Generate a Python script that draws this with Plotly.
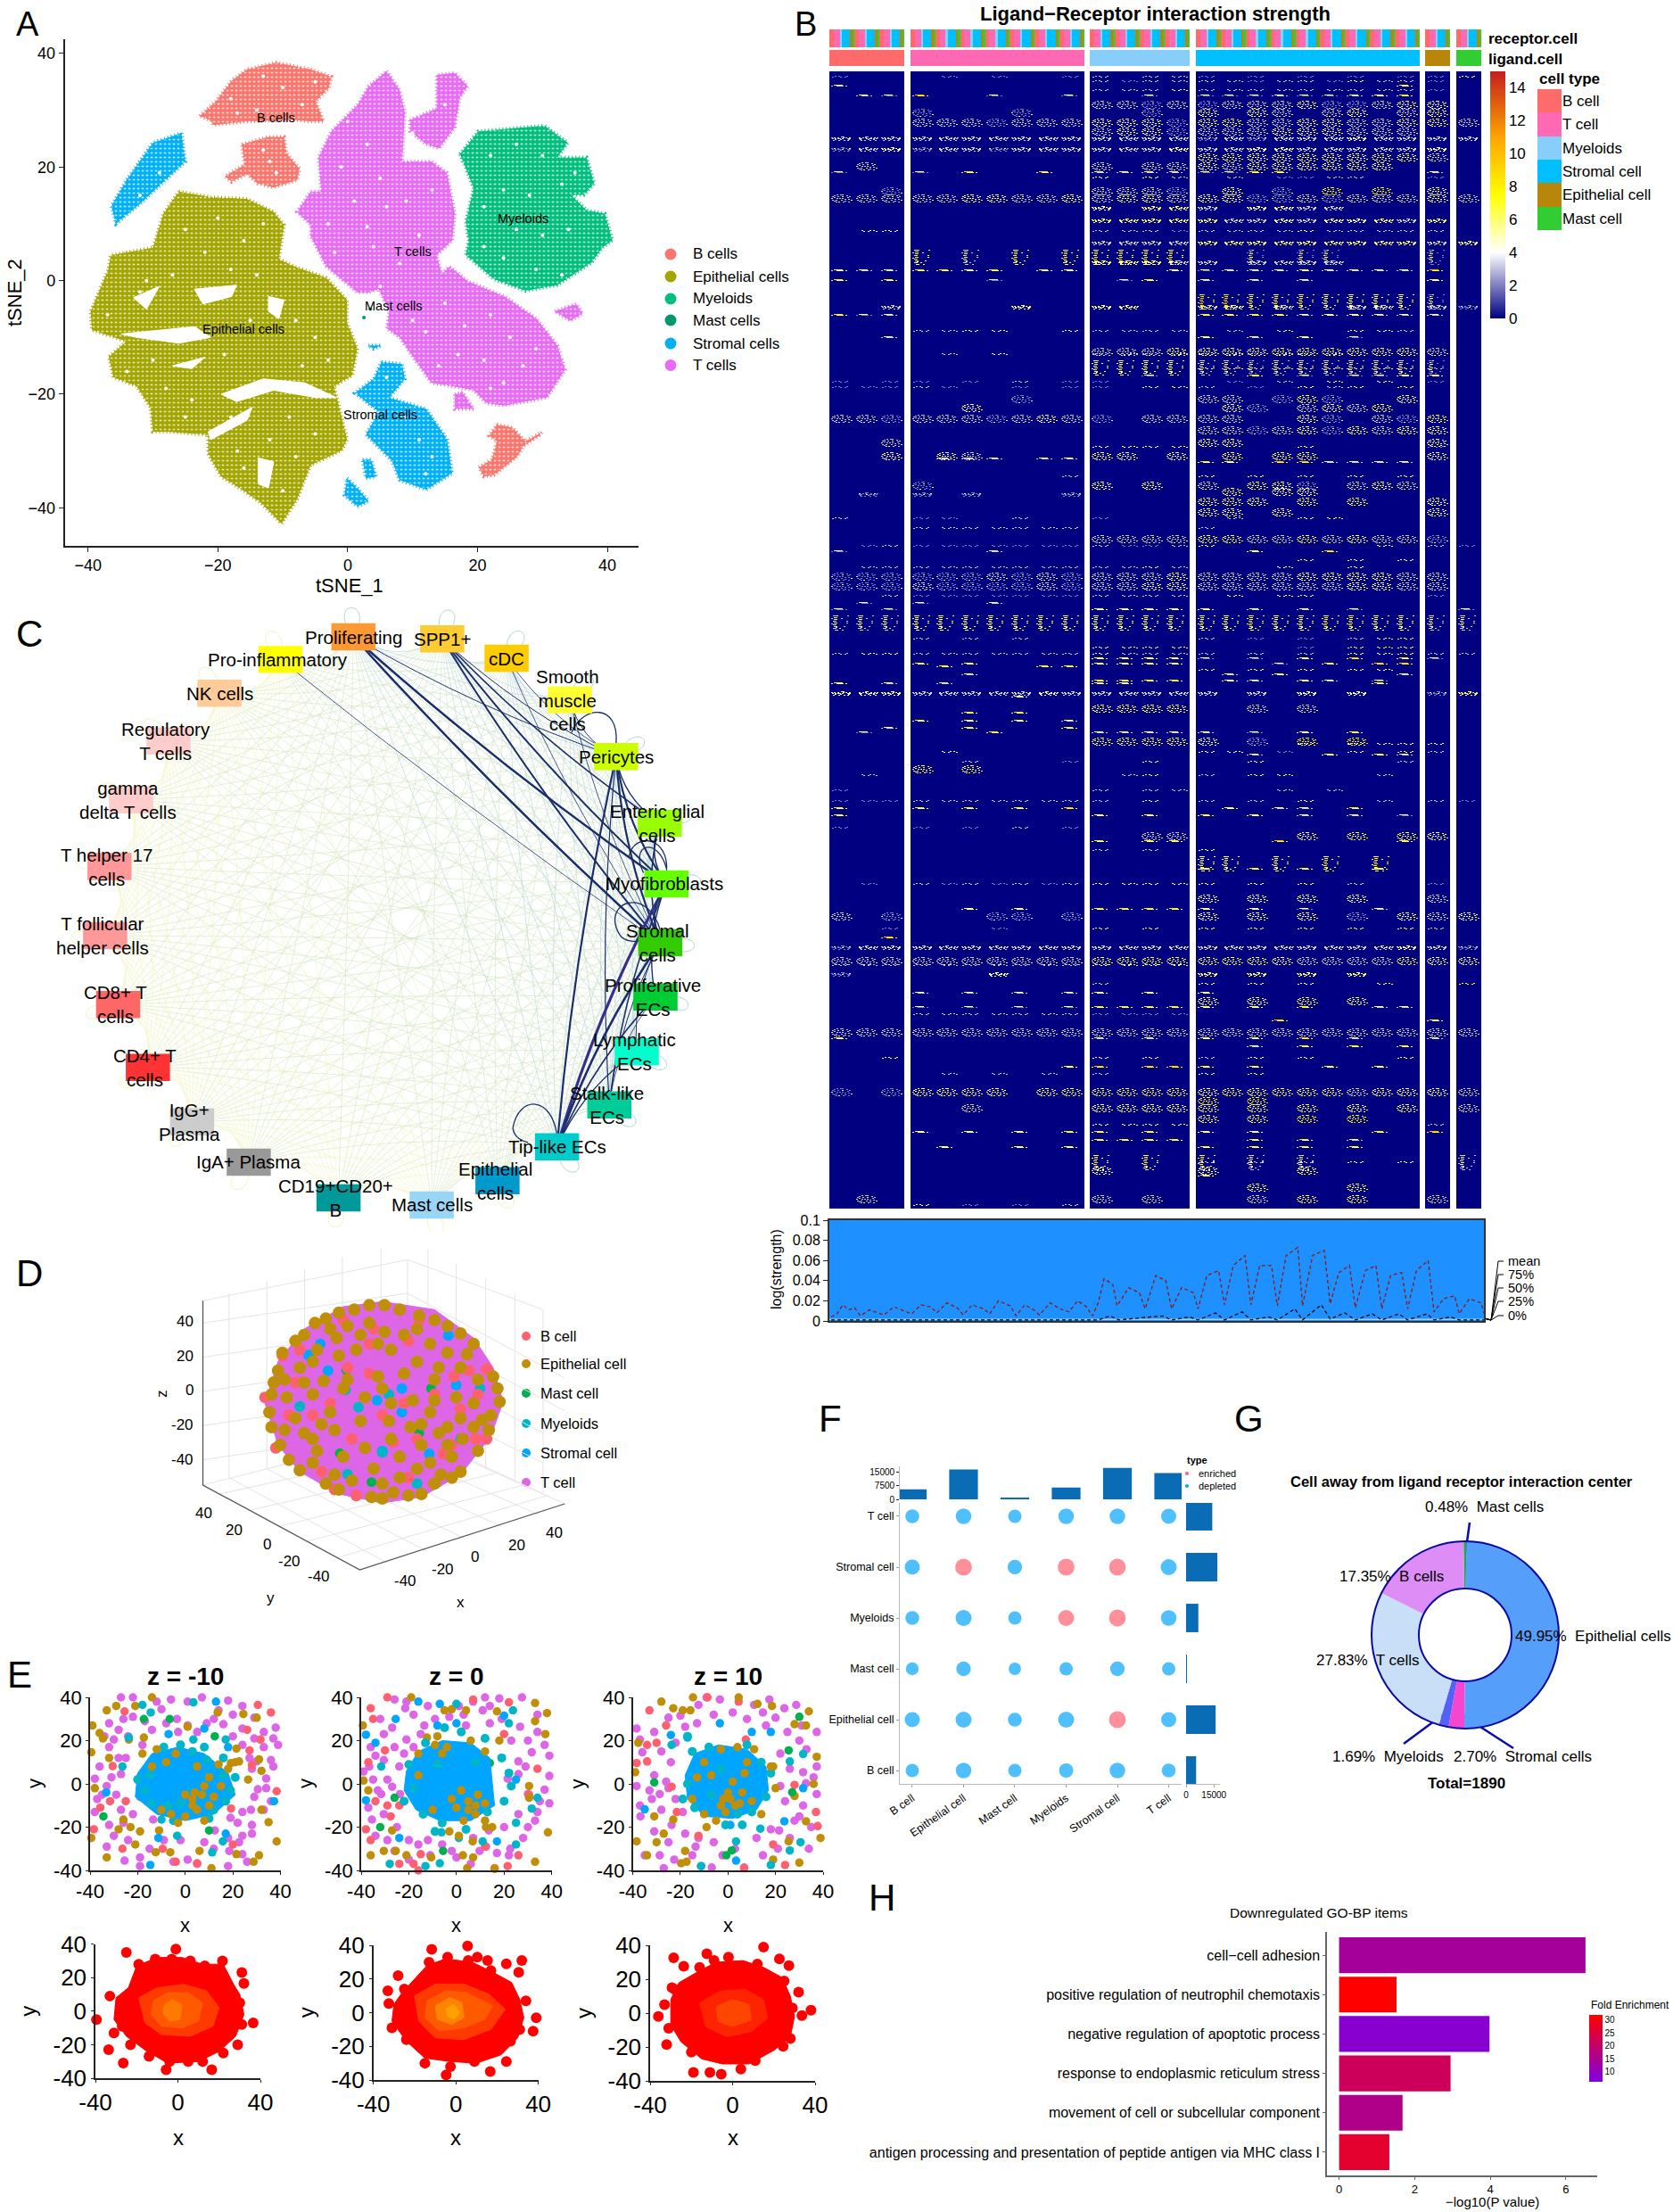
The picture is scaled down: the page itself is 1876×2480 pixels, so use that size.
import numpy as np
import plotly.graph_objects as go

# NOTE: dense clouds (A, D, E lower row) and the heatmap cannot be read point by point.
# They are approximated by hand-read outlines, hand-placed dots and hand-read band intensities.
W, H = 1876, 2480
FONT = "Liberation Sans"

# ---------- Panel A ----------
tsne_colors = dict(B="#F8766D", E="#A3A500", M="#00BF7D", Ma="#00966B", S="#00B0F6", T="#E76BF3")
b_top = [(-22.8,29),(-20.3,31.6),(-17.9,35.2),(-15.5,37.2),(-11,38.4),(-5.7,37.2),(-2.5,35.9),(-2.9,33.9),(-4.9,31.6),(-3.7,28),(-5.7,28),(-8.2,28.3),(-15.5,28),(-20.7,27.4),(-21.1,28.2)]
b_mid = [(-16.3,24),(-12.2,25.3),(-9.8,25.3),(-9.4,22.4),(-7.4,19.7),(-7.8,17.7),(-11.4,16.4),(-13.9,17.1),(-15.5,18.8),(-17.9,17.4),(-18.9,18.4),(-15.9,20.4)]
b_low = [(23,-25.3),(25.4,-25.9),(27.4,-28.3),(29.9,-26.7),(29.5,-27.3),(27,-29.2),(26.2,-30.9),(22.6,-34.2),(21,-34.5),(20.2,-32.9),(22.2,-31.5),(23,-28.3),(21.8,-27.3)]
myeloid_poly = [(17.3,22.3),(20.1,26.3),(30.3,27.3),(33.9,24.3),(32.3,21.7),(36.8,21.7),(38,17.1),(36.4,15.1),(34.4,15.1),(36.8,12.4),(39.6,11.8),(40.8,7.1),(39.2,5.8),(37.6,3.2),(32.3,-.8),(27.4,-1.8),(22.6,.2),(18.2,4.5),(18.6,7.1),(18.2,10.4),(19.4,16.3)]
t_main = [(6,36.9),(8,33.6),(8.8,29.6),(8.4,21),(12.9,21),(15.3,19),(16.5,11.8),(16.1,7.1),(13.7,4.5),(14.5,1.2),(15.7,2.5),(18.5,-.1),(24.2,-2.8),(29.1,-6.7),(32.3,-11.4),(33.5,-15.7),(30.7,-20.6),(24.2,-22),(21.4,-21.6),(19.4,-19.3),(16.1,-18.6),(12.9,-18),(10.4,-14),(8,-10),(6,-8.4),(6.4,-5.4),(4.8,-1.5),(3.2,-2.1),(1.5,-2.1),(-3.3,2.5),(-5.7,7.8),(-5.7,9.8),(-7.8,12.1),(-5.7,15.7),(-4.1,15.7),(-4.5,21.7),(-2.5,26.3),(1.5,30.9),(3.2,34.2)]
t_up = [(9.6,28.3),(13.7,30.3),(13.7,36.2),(16.5,36.6),(18.5,34.2),(17.3,32.3),(16.5,27),(14.1,23.3),(12.1,24),(9.6,26.3)]
t_s1 = [(16.5,-20),(17.7,-19.6),(19.4,-22.6),(16.5,-22.6)]
t_s2 = [(31.9,-5.4),(35.2,-4.1),(36.2,-5.8),(34.3,-7.1)]
s_left = [(-25.6,26),(-25,21),(-31.7,13.8),(-35.7,10),(-36.4,13.1),(-34.1,17.7),(-30,24.3)]
s_main = [(5.2,-14.3),(8.4,-14.7),(8.8,-17.3),(6.4,-20.6),(12.1,-22.6),(15.3,-27.9),(16.1,-33.9),(12.1,-36.8),(8,-35.1),(6.8,-31.7),(2.8,-27.1),(4.8,-23.1),(1.1,-19.8),(4,-17.3)]
s_s1 = [(2.3,-31.5),(3.6,-31.5),(4.4,-34.5),(2.8,-34.8)]
s_s2 = [(-.1,-34.8),(1.5,-36.5),(3.2,-38.8),(1.5,-39.8),(-.5,-37.8)]
s_s3 = [(3.2,-11.4),(5.2,-11.4),(4,-12)]
epi_poly = [(-26,15.7),(-21.1,14.7),(-15.5,14.4),(-11.4,12.1),(-9.8,9.8),(-10.6,3.8),(-8.2,2.5),(-3.3,.5),(-.1,-3.4),(-.1,-7.4),(1.5,-12),(.7,-16.7),(-2.1,-18.6),(-.9,-23.9),(-.1,-27.9),(-.9,-29.9),(-5.7,-32.5),(-7.8,-38.5),(-10.2,-42.8),(-13.4,-39.1),(-16.7,-36.5),(-19.5,-34.5),(-21.5,-30.5),(-21.5,-27.2),(-27.6,-26.6),(-30,-26.6),(-30.4,-22.3),(-32.5,-18.6),(-36.1,-17),(-36.8,-13.4),(-34.1,-10.7),(-39.4,-8.7),(-39.6,-5.4),(-36.9,1.9),(-36.5,4.5),(-30,5.8),(-28.4,11.8)]
epi_gaps = [[(-34.9,-9.4),(-23.6,-8.1),(-21.1,-10),(-26,-11),(-32.5,-10)],
            [(-23.6,-1.5),(-17.1,-.8),(-17.9,-2.8),(-22.3,-4.1)],
            [(-12.2,-2.8),(-9.8,-3.4),(-10.6,-6.7),(-12.2,-5.4)],
            [(-19.5,-20),(-13,-17.3),(-6.6,-18),(-1.7,-20.6),(-4.9,-20.6),(-11.4,-19.3),(-17.1,-21.3)],
            [(-21.5,-26.6),(-14.7,-22.3),(-15.5,-24.6),(-21.1,-28)],
            [(-13.8,-31.2),(-11.4,-31.9),(-12.2,-36.5),(-13.8,-35.8)],
            [(-27,-15),(-22,-13.5),(-24,-15.5)],[(-33,-3),(-29,-1),(-31,-5)]]
tsne_polys = [("B",b_top),("B",b_mid),("B",b_low),("M",myeloid_poly),("T",t_main),("T",t_up),("T",t_s1),("T",t_s2),("S",s_left),("S",s_main),("S",s_s1),("S",s_s2),("S",s_s3),("E",epi_poly)]
white_specks = [(-18,32),(-14,30),(-10,34),(-7,31),(-13,36),(-17,29.5),(-5,35),(-12,21),(-11,19),(-13,23),
 (0,28),(3,24),(-1,20),(5,18),(1,14),(-3,10),(3,9.5),(4,6),(-2,5),(6,13),(9,14),(11,8),(13,16),(8,3),(5,-1),
 (15,-4),(18,-8),(22,-6),(25,-10),(21,-14),(27,-15),(24,-18),(17,-13),(12,-9),(29,-12),(22,-19),(14,-15),(10,-7),
 (22,22),(26,24),(30,22),(24,16),(28,15),(33,17),(21,13),(26,9),(30,8),(24,4),(29,2),(33,1),(34,9),(21,6),(35,19),
 (-25,9),(-20,11),(-16,7),(-13,10),(-22,5),(-18,2),(-14,1),(-27,1),(-32,-2),(-8,-7),(-5,-10),(-3,-14),(-7,-15),
 (-15,-7),(-19,-13),(-28,-19),(-24,-21),(-18,-24),(-9,-24),(-5,-27),(-12,-28),(-17,-30),(-8,-31),(-16,-33),(-10,-37),
 (-34,-16),(-30,-14),(-25,-24),(-31,0),(-37,-6),(11,-28),(13,-31),(9,-24),(6,-17),(12,-34),(-29,19),(-32,15),(10,26),(15,31)]
a_labels = [(-11,28.7,"B cells"),(10,5.2,"T cells"),(27,11,"Myeloids"),(7,-4.4,"Mast cells"),(-16,-8.6,"Epithelial cells"),(5,-23.6,"Stromal cells")]
a_legend = ["B cells","Epithelial cells","Myeloids","Mast cells","Stromal cells","T cells"]
a_legend_y = [285,310,335,359,385,409.5]
a_legend_c = ["#F8766D","#A3A500","#00BF7D","#00966B","#00B0F6","#E76BF3"]

# ---------- Panel B ----------
SEG = [(930,84,3),(1021,195,7),(1222,112,4),(1341,251,9),(1598,28,1),(1633,28,1)]
cell_colors = ["#FF6A6A","#FF69B4","#87CEFA","#00BFFF","#B8860B","#32CD32"]
cell_types = ["B cell","T cell","Myeloids","Stromal cell","Epithelial cell","Mast cell"]
receptor_pattern = [0,0,1,1,1,2,3,3,3,3,4,5]
MOTIF = {
 "r": ["......o...o.o...........","...o.............o......",".o.....o....O.......o...","...o..............o.....","O.....o..o..o...........","...............o...o....",".o...o.....o..........O.","...o...........o........",".....o..O....o.....o...."],
 "c": ["..o.o.O...........o.....","........................","...O.o..................","o..........o............","...O.O..................","........................","..O.o............o......","........................","...O.O...........o......","o.......................","..O.O...................","........................","...o.O........o.........",".....o..................","..o.o....o..............","........................","....o.o.....o..........."],
 "d": ["...OO.OOoO.O.......","o.....o.o.o.o...o.."],
 "s": ["....o...o........o......",".o........o....o........"],
 "w": ["...........o.o..........","o..O...o.....o..o...O...",".o..o..o.o..O.....o.o...","....o.....o........o....","..o.....o.....o...o....."],
}
LEVEL = {1:2.0,2:3.2,3:4.2,4:5.6,5:7.5}
bands = [
(85,"s","1...1.1..12.221.1.1.1.113"),(90,"s","..........212222122132 21."),(95,"d","2.....................4.."),(100,"s","..........222322222222 21."),
(106,"d",".215..1..1..1.1112 1123 4."),(113,"r","..........221212223112 33."),(122,"r","...1...1....1.3.32.23.24."),(133,"r","...222122233314422332234 2"),
(143,"r","..........2331222333222.."),(153,"w","2222222222222212122232222."),(165,"w","1231221222222322332222 23."),(172,"r","..............44334334 32."),
(182,"r",".2........2.22323333 33."),(192,"d","1..1.4..4.22221144.....2."),(198,"s","..........3.32.2.1122..1."),(210,"r","..1.......2221.3.1.5.5.3."),
(218,"r","2222233223233233112 12223 2"),(231,"w","..........3.442.3322....."),(245,"w","..........44444223233424.."),(258,"s",".33.......22212222322222."),
(270,"w","..........2222444444444 23"),(280,"c","...4.2.4.44444..1.11...1."),(292,"w","..........44422.2222....."),(302,"d","3224434.33...3122232222 5."),
(313,"d","4.4...1....14.2.2.2....3."),(330,"c","..............554443333 1."),(342,"w","..2....3..33..23.2..22.21"),(352,"d","412...........444423322 2."),
(370,"s","...2233..32222.2.3..332.."),(377,"d","..2...........3.2.3.1..."),(390,"r","..........2224333444333 2."),(396,"s","....2.3...2222221222....."),
(404,"c","..........3333221222222 1."),(412,"s","..............333333333 2."),(420,"d","............1...4.1.113 3."),(427,"s","1.11.1.2.11....1.2.4.3.1."),
(433,"s","11121..1.11.332.1.323.4.."),(443,"r",".......1......22.14 1..3."),(453,"r",".....3.........31.232 4."),(465,"r","22122212321.2222..31.21 4."),
(478,"r","..............221231323 3."),(492,"r","..2...........33.......3."),(500,"s","..........3333....3....1."),(507,"r","..3.32....43.3.4.44....3."),
(513,"d","....222.22..............."),(517,"d","..............43.55222 2.."),(533,"s",".........2....3.3.3.3.3.."),(540,"r","...1......3.3.2.431.23 2."),
(547,"r","...............4.33......"),(552,"w",".1.1.1...1..............."),(558,"r","..............443.4.4..3."),(570,"r","..............33.3.....3."),
(580,"s","2..11..2..1....2..34....."),(591,"s","...2222222....2..........."),(600,"r","..........2222442242322 1."),(611,"s",".1211111112112 3......3.21"),
(617,"d","1.....2.........3..5....."),(627,"s","..................4.3.3.."),(635,"s",".2222222222232...3..3...."),(642,"r","111111212122232222 3333 22"),
(653,"r","111211112122332222 2233 22"),(667,"s","..21111111222 2.3.33....1."),(675,"d",".1.1..2.................."),(682,"d","1.1.......33333.2.2.1...1."),
(690,"c","222333333333333343 34433 22"),(715,"s","...2.2.2......2.1.1.234.."),(725,"s","..........3333....1.453.."),(732,"s","233222222232222.2.2.334 22"),
(737,"d","..........33331.1.3.5.4 1."),(743,"d","...4.3....3333...1.4.55.."),(746,"d","....4...44..............."),(750,"s","..............3.3.3.4 3.."),
(755,"d",".....2.........2.3....2.."),(762,"d","..........4444.32.32.1..."),(765,"d","3.2.2.....43.........4.."),(775,"w","3332222232222 22.2.3.3..14"),
(780,"d",".......3................."),(790,"r","..........4444..2.2......"),(798,"d",".....4.4................."),(807,"d","...4.3.3.2..............."),
(815,"d","..2..4...4..............."),(820,"d",".1....4...22222.1.3.4...."),(827,"r","..........44443.1.5.5...."),(833,"s","..................3.3333.."),
(842,"s","....3.........33.1..3.4 2."),(845,"d","................2..3.4 2.."),(853,"s",".....2...1..3...3.....2.."),(858,"r","...4.4..................."),
(868,"s",".2.........24.2.44...2."),(885,"s","1.........2.22...2.2....."),(897,"s","1112222222 2.3.2.2.3..2.21"),(905,"d","4..4.4.4.5.....3.22.4....."),
(913,"d","4.........3.3.4.3.2.2.1."),(927,"s","1..1.1.2.1..............."),(933,"r","............22....3.4.4 3."),(942,"d","..........4.44...5....4.."),
(952,"s","..........2.2.3.........."),(960,"c","..............33.3.4.4..."),(973,"d","..............4.4.4..4.."),(990,"s",".1.21212123333 3.3.4.2..1."),
(1003,"r","..............3.3.3.3..2."),(1018,"d",".....3.3..4444 3.3.1..2..."),(1023,"r","2.1...11.1....3.3.3.1.3 23"),(1040,"s","..1...1...3.3.3.3.3.3.3 2."),
(1050,"d","..5......................"),(1060,"w","12222222222 2222222222 23 21"),(1073,"r","22222222224444444322224 33"),(1081,"s","22222222223333..........."),
(1090,"w","1.....3.......4.4.4.4...."),(1102,"s","..........2...3.3.3..4..5."),(1112,"d","...2.2.2.23.3.3..........."),(1118,"r","..............3.3.4.3...."),
(1128,"d","...1.1.1.144443.3.4..22"),(1136,"s","...2222222 1111..........."),(1143,"d",".................5.....4.."),(1153,"r","22222222222222 2222222222 23"),
(1163,"d","4.........2.2.3.3.5.2..2."),(1172,"d","................2.4.4.4..."),(1185,"s","..4.......3.3.2.3.3...4."),(1195,"d",".........35.554.4..3.3..."),
(1203,"s","....2.2.2.2...3.4........"),(1220,"r","1.13333.3444443 444432333 2."),(1230,"r","..............5.5........"),(1238,"r",".....2....3333 4.4.4.3.3.2"),
(1250,"r","..............4.4.5.5...."),(1260,"s","..........3333.........2."),(1268,"d","...3.3.3.44.4.3.3....4.5"),(1277,"d","..........4444..4.4.2...."),
(1285,"d","....3..3.3....4.4.4.4...."),(1295,"c","..........4.4.4.2.2.....2"),(1302,"s","..............2.2.2.3.3.."),(1308,"r","..........3...3...4......"),
(1317,"d","..............4..........."),(1327,"r","................4...4...."),(1340,"r",".2........2.2...2.4.4..2."),(1350,"s","...3.1.1.2..............."),
]
heat_colorscale = [[0,"#000080"],[0.267,"#FFFFFF"],[0.5,"#FFFF00"],[0.73,"#FFA500"],[1,"#C41E1E"]]
mean_x = [125,135,145,155,165,175,190,200,215,232,245,262,278,295,305,322,340,350,365,385,395,410,430,440,455,470,480,498,515,530,545,560,570,580,590,605,612,632,650,660,678,695,705,722,742,750,765,785,795,810,830,840,855,875,885,900,920,928,945,965,975,990,1008,1018,1035,1053,1063,1078,1097,1107,1122,1142,1152,1168,1187,1195,1212,1232,1237]
mean_y = [.004,.007,.016,.011,.013,.005,.011,.009,.006,.014,.011,.007,.016,.014,.008,.018,.013,.006,.016,.012,.007,.02,.015,.005,.016,.011,.006,.018,.012,.009,.02,.014,.005,.018,.042,.036,.015,.033,.028,.012,.045,.04,.012,.033,.028,.012,.045,.05,.016,.055,.065,.016,.055,.055,.015,.065,.073,.015,.065,.07,.017,.048,.055,.013,.05,.055,.012,.045,.048,.012,.05,.06,.009,.022,.025,.007,.022,.018,.008]
q75_x = [125,580,600,615,650,690,705,735,750,780,795,825,840,870,885,915,928,960,975,1000,1018,1047,1063,1092,1107,1140,1152,1180,1195,1237]
q75_y = [.001,.001,.005,.001,.003,.005,.001,.004,.001,.008,.001,.009,.001,.004,.001,.012,.001,.016,.002,.008,.001,.007,.001,.007,.001,.007,.001,.004,.001,.001]
side_labels = [("mean",1414),("75%",1429),("50%",1444),("25%",1459),("0%",1475)]

# ---------- Panel C ----------
node_names = ["Proliferating","SPP1+","cDC","Smooth<br>muscle<br>cells","Pericytes","Enteric glial<br>cells","Myofibroblasts","Stromal<br>cells","Proliferative<br>ECs","Lymphatic<br>ECs","Stalk-like<br>ECs","Tip-like ECs","Epithelial<br>cells","Mast cells","CD19+CD20+<br>B","IgA+ Plasma","IgG+<br>Plasma","CD4+ T<br>cells","CD8+ T<br>cells","T follicular<br>helper cells","T helper 17<br>cells","gamma<br>delta T cells","Regulatory<br>T cells","NK cells","Pro-inflammatory"]
node_x = [736,921,1055,1187,1283,1374,1388,1375,1365,1326,1269,1160,1036,899,705,518,400,308,246,219,228,273,351,457,584]
node_y = [117,122,169,270,408,570,717,860,992,1125,1254,1356,1438,1497,1480,1393,1295,1163,1010,843,675,513,370,254,172]
label_x = [736,921,1055,1182,1284,1368,1383,1370,1359,1321,1264,1160,1031,899,700,518,395,302,240,213,222,267,345,457,578]
node_col = ["#FF9933","#FFCC33","#FFCC00","#FFFF33","#CCFF00","#99FF00","#66FF00","#33CC00","#00CC33","#00FFCC","#00CC99","#00CCCC","#0099CC","#99D5F5","#009999","#999999","#CCCCCC","#FF3333","#FF6666","#FF9999","#FF9999","#FFCCCC","#FFCCCC","#FFCC99","#FFFF00"]
strong_edges = [(0,6,2.4),(0,6,1.6),(0,7,2.4),(0,7,1.6),(0,4,1),(1,6,2),(1,7,2),(1,5,1.6),(1,4,1),(2,4,.8),(2,7,.8),(24,7,.8),(3,7,.8),(3,4,1),(4,11,2.2),(4,10,1.2),(4,6,2.2),(4,7,2.2),(4,5,1.4),(5,6,1.6),(5,7,1.6),(6,11,3.2),(7,11,2.6),(6,10,1.6),(8,11,1.6),(9,11,1.4),(7,9,1),(6,8,1.4),(6,7,1.6),(7,10,1),(8,10,.8)]
strong_loops = ["M1283,375 C1290,280 1215,280 1190,350","M1388,690 C1395,600 1320,590 1310,650","M1340,690 C1310,620 1370,600 1388,680","M1375,830 C1350,720 1250,760 1290,840 C1300,860 1330,860 1340,850","M1160,1330 C1150,1230 1080,1230 1068,1310 C1070,1330 1080,1340 1100,1345"]

# ---------- Panel D ----------
d_outline = [(880,178),(1000,205),(1090,300),(1135,400),(1158,515),(1130,630),(1060,760),(970,835),(880,855),(780,825),(690,750),(640,660),(610,520),(640,380),(700,270),(790,195)]
d_gold = [(850,190),(885,190),(815,205),(780,215),(920,205),(750,235),(965,225),(725,250),(1000,240),(1030,260),(700,290),(1060,285),(680,310),(1090,320),(650,350),(640,410),(630,450),(1135,430),(1145,470),(1150,515),(625,490),(620,550),(625,600),(1130,560),(1125,610),(645,660),(665,710),(690,745),(1100,680),(1060,750),(720,720),(750,790),(780,810),(855,835),(880,840),(905,820),(940,830),(970,825),(1000,790),(1040,770),
 (760,270),(800,260),(850,250),(885,280),(930,290),(990,320),(1030,350),(1060,400),(1010,400),(960,380),(900,340),(870,320),(820,340),(780,360),(720,380),(690,400),(745,445),(800,440),(870,430),(930,420),(1000,440),(1050,500),(1100,440),(1090,520),(1060,570),(990,550),(950,510),(900,520),(840,500),(790,470),(720,490),(660,500),(680,570),(740,590),(700,620),(770,610),(830,580),(895,580),(970,590),(1030,600),(1090,600),(1030,660),(970,660),(900,640),(840,670),(790,700),(730,680),(860,740),(920,770),(990,720),(1040,700),(810,780),(880,790),
 (775,300),(830,290),(960,270),(1075,355),(730,340),(655,440),(700,450),(760,550),(655,610),(720,640),(1010,620),(1065,640),(1110,575),(945,600),(1000,510),(880,470),(920,700),(770,760),(960,740),(1015,760)]
d_red = [(790,240),(860,270),(965,240),(940,310),(1120,405),(850,420),(760,520),(680,450),(610,500),(665,560),(810,640),(960,640),(905,650),(1020,690),(1040,660),(1095,640),(740,750),(770,810),(820,830),(940,770),(1000,490),(1100,490),(1045,430),(635,670),(1120,640),(650,360),(690,340),(930,520),(850,320),(1080,410),(880,560),(720,560),(1060,540),(800,400)]
d_blue = [(737,320),(710,358),(1032,292),(1050,458),(868,510),(925,550),(988,690),(880,680),(925,470),(755,410)]
d_teal = [(795,475),(825,533),(880,685),(800,758),(895,490),(1060,640),(960,790),(1105,470),(690,530)]
d_green = [(797,408),(992,470),(782,688),(855,785),(965,620)]
d_grid = [[(467,175),(938,37),(1250,205)],[(467,250),(938,150),(1300,435)],[(467,365),(938,265),(1300,545)],[(467,480),(938,380),(1250,620)],[(467,595),(938,495),(1250,720)],[(467,710),(938,610),(1250,825)],
 [(527,150),(527,770)],[(614,108),(614,740)],[(701,68),(701,715)],[(788,28),(788,690)],[(877,0),(877,660)],[(985,0),(985,660)],[(938,37),(938,620)],[(1050,50),(1050,700)],[(1118,100),(1118,740)],[(1185,155),(1185,780)],[(1250,205),(1250,825)],
 [(890,1055),(527,770)],[(980,1015),(614,740)],[(1070,975),(701,715)],[(1155,935),(788,690)],[(1240,895),(877,660)],
 [(505,825),(1005,665)],[(575,880),(1075,710)],[(640,935),(1140,755)],[(705,985),(1205,795)],[(775,1040),(1260,830)],[(467,795),(938,620),(1300,858)]]
d_axes = [[(467,175),(467,795),(828,1080),(1300,858)]]
d_text = [(425,245,"40"),(425,360,"20"),(437,475,"0"),(420,592,"-20"),(420,708,"-40"),(470,890,"40"),(538,945,"20"),(615,995,"0"),(667,1050,"-20"),(733,1103,"-40"),(933,1118,"-40"),(1020,1078,"-20"),(1093,1035,"0"),(1190,997,"20"),(1276,955,"40"),(623,1175,"y"),(1060,1190,"x")]
d_legend = ["B cell","Epithelial cell","Mast cell","Myeloids","Stromal cell","T cell"]
d_legend_y = [1498,1529,1562,1596,1629,1662]
d_legend_c = ["#FF6070","#C08F0A","#00B050","#00B5C8","#00A5FF","#DD66E6"]

# ---------- Panel E top row ----------
e1 = dict(
 T=[(-27,40),(-22,40),(-6,39),(1,38),(7,40),(18,38.5),(38,26),(37,21),(39,18),(36,11),(37,8),(34,2.5),(34,-2),(30.5,-2.5),(29,-6),(27.6,-12),(24,-13),(28,-19),(28,-23),(24,-24),(22.6,-27),(18,-38),(26,-36),(24,-32.5),(18.5,-31),(5,-37),(1,-35),(-5,-36),(-19,-38),(-25.5,-35.5),(-33,-29),(-19,-34),(-32,-19),(-38,-13),(-37,-7),(-38,2.4),(-36,8),(-32,17),(-32,28),(-30,20.5),(-26,30),(-22,31),(-17,29),(-10,34.5),(-3.5,30),(1,27),(9,28),(16,27.6),(20,32),(24,25.6),(29,30.6),(29,21),(33,17),(30,10.4),(28,7),(-33,-1),(-27,4.5),(-28,12),(-25,12),(-29,-5),(-19,-6),(-26,-18),(-13.5,-16.5),(-5.6,-13),(12.4,-21.5),(19,-15.7),
    (-14,25),(-8,28),(-3,24),(5,24),(12,30),(20,22),(24,18),(27,12),(33,24),(36,-8),(33,-12),(22,-18),(18,-25),(12,-30),(8,-27),(-2,-26),(-9,-26),(-15,-30),(-24,-26),(-30,-24),(-35,-5),(-31,3),(-27,-12),(-22,-14),(-24,22),(-28,25),(-34,22),(-18,18),(-12,38),(14,34),(24,36)],
 B=[(-25.5,33.5),(30.5,36.5),(36,33),(26,25),(31.6,20.5),(27,15.5),(28,8.7),(38.4,-3.4),(-38.4,-21),(-35.7,-11),(-30.5,8.2),(-26.4,-30),(-9.5,-30),(-4,-36),(5,-36.7),(20,-28),(19.2,-11.4),(-25,-8),(-19,3),(-31.6,-8)],
 E=[(-14,40),(-33,34),(-29,36),(-21,36),(-39,27),(-39.5,14.6),(-36,23.5),(-34.6,21),(-32,12),(-38,-2),(-39.5,-25),(-33,-34),(-21,-28),(-26,-16.5),(-28,-21),(-23,-20),(-19,-22),(-11,-21.5),(-12.4,-31.6),(-6.3,-31.6),(6,-31),(11,-39),(21.5,-32.5),(31,-33),(28.7,-36),(38.4,-26.6),(35,-17.7),(32,-12),(26.4,2),(32,6),(31,11.3),(24.4,32.3),(30,30.6),(13.6,33),(1,26.4),(-23.7,20.5),(-17.4,21.4),(21.5,16.3),(22.6,10.4),(19.2,9.6)],
 M=[(-18,36.5),(-14.5,33),(3.4,37.7),(17,20.5),(3.4,20.5),(11.3,-31.7),(15.8,-26.6),(-3.4,-24),(-10,-16.5),(-26.4,8),(-23.7,21.4)],
 S=[(12.9,38),(-14.7,-37.5),(37.3,-8),(17,-23),(-11.3,-25),(-33.2,-4),(8,25.6),(18,17),(-7,23)],
 C=[(-17.4,30),(-6.5,30),(-34.4,-15),(10,-21.5),(12.4,22)],
 core=[(-20,5),(-14,14),(-3,17),(8,14),(18,5),(21,-5),(12,-14),(0,-17),(-12,-14),(-21,-6)],
 core_E=[(-8,10),(-4,14),(5,8),(8,-1),(4,-4),(3,-7),(7,-5),(10,3),(12,-6),(15,-1),(-10,-12),(-6,-14),(0,-15),(5,-12),(-14,8),(-18,14),(14,9),(18,7),(21,10),(-3,-18),(8,-17),(10,-10),(3,-10),(0,-5),(-12,16)],
 core_M=[(-17,-3),(-20,2),(-14,-9),(-7,-10),(-2,-9),(4,-11),(12,-12),(17,-8),(19,-3),(21,3),(16,12),(8,17),(-2,18),(-9,17),(3,15),(9,11),(-15,4),(16,4),(-5,-17),(10,-16)])
e2 = dict(
 T=[(-26,39),(-21,38),(-12,36),(12,40),(18,39.5),(27.5,40),(7,38),(1,36),(37,18),(39,13),(39,3.7),(37,-2.7),(39,-9),(35,-8),(34,-13),(30,-4.7),(30,-20),(28,-25),(22.6,-30),(17,-32),(12.4,-29),(9.7,-31),(-2,-31),(-11,-33),(0,-34),(-20,-35),(-26,-31),(-34,-24),(-35.5,-16.5),(-37,-11),(-39,5.7),(-36.6,8),(-34,13),(-36,17),(-30.5,23),(-26,17),(-30.5,11),(-21,20.5),(-18,17),(-13.5,27),(-18,32),(-21.5,35),(11,34),(19,30),(26.7,26.4),(31.6,14.6),(26,10.4),(29,8),(21.5,2.4),(26,4.5),(-29,2),(-31.6,-4.7),(-27,-1.3),(-23.7,-4.7),(-30.5,-14),(-25,-20),(-16,-28),(7,-25),(13.6,-21.5),
    (-9,30),(-3,31),(4,27),(14,28),(23,20),(30,20),(34,24),(33,-17),(26,-14),(20,-20),(22,-33),(6,-37),(-6,-28),(-12,-26),(-20,-26),(-29,-26),(-33,-3),(-35,2),(-24,8),(-22,14),(-27,26),(-32,30),(-15,23),(3,32),(14,36),(34,32)],
 B=[(-29,40),(-36,35),(-35,30),(7,39),(22,37.7),(-37,10),(-30,15.5),(34,7),(-34,-8),(-29,-10),(-24,-10),(-27.6,-15),(-38,-21),(-36,-26),(-24,-37),(-16,-40),(-18,-37),(-15,-32.5),(16,-39),(21.5,-38),(26,-33),(12,-29),(30.5,-5),(20,23)],
 E=[(-19,40),(-5,34),(-2,34.5),(4,34),(17,33.5),(33,37.4),(38,32.7),(33,29),(37.3,23),(-39.3,27),(-39,1.5),(-37,-3),(30.5,-1),(30.5,-6.4),(38.4,-22.4),(33,-36),(-36,-33),(-30.5,-31),(-25.5,-31),(-21,-33),(-10.6,-34),(2.7,-33),(7,-34),(4.5,-39),(16,-39.3),(12.4,-20),(6.8,-26.6),(-27,-21.5),(-12.4,21.4)],
 M=[(0,37),(23.7,34),(22,28),(-28,-37),(-13,-38),(-7,-36.7),(11,-26.6),(25,-28),(1,-25),(-6.3,-22.4),(-31.6,8),(31.6,-11.4),(34,-6.4),(25,-18)],
 S=[(-38,22.7),(-34,19),(-16,38),(-7,37),(20,31.5),(-25.5,30),(-38,-7.6),(-24,-25),(17,-26.6),(25,2),(-8,27),(0,28)],
 C=[(-26,-6.4),(-32,-20),(-5.6,-31),(14,9.6)],
 core=[(-21,6),(-16,15),(-6,20),(6,19),(14,12),(15,0),(16,-10),(6,-17),(-7,-17),(-17,-12),(-22,-3)],
 core_E=[(-6,14),(-9,18),(-4,17),(5,-8),(8,-10),(5,-12),(9,-5),(0,-11),(-2,-7),(12,-9),(8,-14),(3,-17),(-3,-22),(1,-24),(12,-17),(15,-20),(-16,14),(-8,22),(6,20),(12,15),(18,20),(-10,-12),(-16,4),(2,-3)],
 core_M=[(-18,-2),(-14,-14),(-6,-18),(4,-21),(13,-13),(20,-8),(23,-1),(22,5),(19,12),(12,21),(2,24),(-5,26),(-13,19),(-20,9),(-22,-8),(-9,-22),(-8,9),(8,10)])
e3 = dict(
 T=[(-38.4,25.6),(-37,20.5),(-36,14.6),(-38.4,-1),(-37,-10),(-36.8,-15),(-32,-7),(-28.7,-4.7),(-25,-2),(-20,31.5),(-25,30.6),(-18,26.4),(-12.4,36.5),(-9,40),(-3.4,39),(11,36.5),(17.4,39),(23.7,35),(28.7,36.5),(37.3,24),(31,27),(25,24),(20,30.6),(14.7,33),(37.3,8),(31.6,5.4),(26,7),(32.8,.3),(36,3),(37.3,-4.7),(31.6,-10),(35,-20),(34,-30),(26,-25),(21.5,-21.5),(14.7,-33),(6.8,-38.7),(-2.3,-33),(-6.8,-38.7),(-11.3,-38),(-13.6,-29),(-22.6,-35),(-27,-39),(-28.7,-33),(-35,-33),(-23.7,-19),(-18,-23),(-12.4,-25),(-19,-13),(-26,1),
    (-31,24),(-28,15),(-22,19),(-24,10),(-31,4),(-33,-3),(-22,-7),(-28,-12),(-31,-22),(-25,-27),(-15,-33),(-6,-27),(3,-30),(12,-25),(18,-21),(21,-30),(28,-17),(24,-8),(22,-1),(30,-15),(33,16),(22,14),(30,20),(16,27),(8,30),(2,33),(-6,32),(-13,28)],
 B=[(-33,34),(-34,18),(-34,10.4),(-38.4,9.6),(-30,19),(-26,27),(-8.6,40),(4.5,38),(7.5,20.5),(28,-.5),(37,-13),(37.7,-19.5),(-12.4,-24),(-21.5,-13),(-23.7,-1.3),(6.8,-39),(24,-37.5),(19,-28)],
 E=[(-28,38),(-23,35),(-19,34),(-14.7,40),(-15.8,34),(4.5,40),(12.4,37),(18.5,36),(34,33.5),(28,27.6),(32.8,27),(37.3,12.5),(-37.7,19),(-39,5.4),(-38.4,-26.6),(-34,-33),(-30,-27),(-27,-23),(-31,-15),(-19.7,-36.7),(-17.4,-36),(-18,-31),(-23,-16.5),(-9,-20),(19,-35),(30,-36.4),(25.5,-26.6),(32.8,-17.3),(38.9,-25),(36,0),(28,-5.6),(19,8)],
 M=[(-23.7,18),(-11.3,-38),(18,-37.5),(30.5,-27),(26,-30.8),(3.4,-26.6),(13.6,-20.7),(31.6,13.8),(26,10.4)],
 S=[(-35,-11.8),(-24,22.6),(-17,21.4),(-3.4,28),(18,24),(10,24),(3.4,-35.5),(23.7,-17.3),(31.6,-2),(1,-19)],
 C=[(30,31),(-31,.7),(-.7,-33),(1.6,-30.8),(27,-3.9),(25.5,15.5)],
 core=[(-18,4),(-14,14),(-4,18),(8,16),(16,8),(17,-3),(12,-12),(2,-16),(-10,-15),(-17,-7)],
 core_E=[(0,-4),(2,1),(-2,-7),(3,-10),(6,-4),(7,5),(-3,-10),(-1,-13),(1,-7),(5,-9),(10,-8),(-10,10),(-7,4),(-13,3),(11,16),(4,17),(-3,16),(-15,-7),(-10,-14),(14,-14),(18,8),(-5,-17),(8,10),(20,-2)],
 core_M=[(-17,0),(-14,-11),(-7,-5),(-3,7),(-15,15),(-8,17),(-17,22),(14,10),(10,-13),(16,-6),(-1,-19),(4,-14),(18,5),(-19,-7),(6,-19),(8,18)])
e_boxes = [(101,314.5),(405,618.7),(709.6,923)]
e_titles = ["z = -10","z = 0","z = 10"]
# ---------- Panel E bottom row ----------
r1_out = [(-30,8),(-24,14),(-20,27),(-10,32),(2,32),(12,28),(22,28),(27,16),(30,10),(32,-2),(28,-15),(20,-24),(10,-30),(-5,-31),(-15,-24),(-25,-15),(-31,-5)]
r1_dots = [(-25,35),(-1,37),(-39.5,-5),(36.5,-7),(-33.6,-23),(-26.5,-31),(-5.7,-35),(16.4,-35),(-33,9),(31,23),(32,16.5),(21.6,30),(-31,-13),(-23,-20),(5,-30),(12,-30),(22,-25),(29,-20),(-19,28),(-11,31),(-3,31),(6,30),(13,27),(-28,3),(-27,-9),(30,5),(31,-8),(-14,-27),(-4,-30)]
r2_out = [(-26,12),(-20,20),(-14,28),(-5,32),(8,30),(18,24),(27,18),(31,8),(33,-3),(30,-15),(22,-25),(10,-30),(-3,-29),(-15,-27),(-24,-17),(-31,-5),(-30,5)]
r2_dots = [(5.7,39.6),(-11.7,37.6),(10.4,33),(15.4,31),(24.5,29),(32,31),(30.5,24),(-28,22),(-33,13),(-32.5,5.4),(-31,-9),(34,7),(39,-3),(37.5,-11),(26.5,-17),(24.5,-29),(16.7,-35),(-4.7,-37),(-2.6,-32),(-15,-30),(-13,30),(-4,33),(6,31),(17,25),(-25,14),(-24,-16),(9,-29),(31,-10)]
r3_out = [(-30,8),(-26,18),(-16,25),(-8,30),(5,31),(15,27),(24,21),(28,10),(30,-2),(28,-14),(20,-22),(8,-30),(-5,-30),(-15,-27),(-25,-17),(-30,-7)]
r3_dots = [(15,39),(-12.5,35),(-2,33),(-28.6,32.6),(-23.7,27.6),(22.7,32),(27.3,28),(32,12.4),(38,1.7),(-36,-2),(-32,-18.5),(-19,-35),(-11,-35),(-5.5,-36),(4,-33),(11,-28),(24.5,-19.6),(28,-15),(33.6,-1.5),(-29.4,15),(-33,5),(-28,14),(-16,27),(-9,31),(12,29),(25,19),(29,3),(-31,-9),(-20,-23)]
r_layers = [
 [("#FF3A00",[(-19,8),(-10,14),(3,16),(14,12),(20,2),(17,-9),(6,-15),(-8,-14),(-16,-7)]),("#FF5A00",[(-12,6),(-5,11),(5,11),(12,5),(10,-6),(2,-10),(-8,-9),(-13,-2)]),("#FF7A00",[(-7,3),(-3,7),(2,4),(1,-5),(-4,-6),(-7,-2)])],
 [("#FF3A00",[(-20,10),(-10,17),(4,17),(16,11),(24,2),(17,-10),(4,-16),(-10,-15),(-18,-5)]),("#FF5A00",[(-14,7),(-5,13),(5,12),(18,4),(14,-4),(4,-9),(-8,-11),(-15,-3)]),("#FF8400",[(-10,4),(-3,9),(3,6),(4,-3),(-2,-7),(-9,-4)]),("#FFA000",[(-5,2),(-1,5),(2,0),(-1,-4),(-4,-2)])],
 [("#FF2400",[(-16,6),(-6,13),(6,14),(15,8),(17,-3),(9,-11),(-3,-14),(-13,-8)]),("#FF4600",[(-8,4),(0,8),(8,5),(9,-4),(0,-8),(-7,-5)])]]
r_boxes = [(107,292,2179.6,2330),(418.7,603.6,2181,2332),(729,914,2181,2333)]

# ---------- Panel F ----------
f_cols = ["B cell","Epithelial cell","Mast cell","Myeloids","Stromal cell","T cell"]
f_rows = ["B cell","Epithelial cell","Mast cell","Myeloids","Stromal cell","T cell"]
f_top = [5500,16300,650,6500,17100,14350]
f_side = [5400,15900,300,6600,16800,14100]
f_size = [[15,17.5,15,16,17.5,15.6],[17,18,15.6,18,18.8,17],[14.4,16.3,13.8,15,16.3,15],[15.6,18,15,18,18.8,17.5],[17,18.8,16.3,18.8,18.8,18],[15.6,17.5,15,17.5,17.5,17]]
f_enriched = [(1,4),(3,3),(3,4),(4,1),(4,3),(4,4)]
# ---------- Panel G ----------
g_labels = ["Mast cells","Epithelial cells","Stromal cells","Myeloids","T cells","B cells"]
g_values = [0.48,49.95,2.70,1.69,27.83,17.35]
g_colors = ["#1FA84A","#559FFB","#F646D0","#5560F5","#C9DFF8","#DD8DF5"]
g_text = [("0.48%  Mast cells",1664,1689,"center"),("17.35%  B cells",1500,1767,"left"),("49.95%  Epithelial cells",1697,1834,"left"),("27.83%  T cells",1474,1861,"left"),("1.69%  Myeloids",1492,1969,"left"),("2.70%  Stromal cells",1628,1969,"left")]
g_leaders = [[(1648,1707),(1643,1743)],[(1574,1955),(1624,1918)],[(1697,1960),(1632,1918)]]
# ---------- Panel H ----------
h_terms = ["cell\u2212cell adhesion","positive regulation of neutrophil chemotaxis","negative regulation of apoptotic process","response to endoplasmic reticulum stress","movement of cell or subcellular component","antigen processing and presentation of peptide antigen via MHC class I"]
h_values = [6.52,1.52,3.98,2.95,1.68,1.33]
h_fold = [14,32,7.8,21.6,16,26.5]

# ---------- layout helpers ----------
fig = go.Figure()
lay = dict(width=W, height=H, margin=dict(l=0,r=0,t=0,b=0,autoexpand=False), paper_bgcolor="white", plot_bgcolor="rgba(0,0,0,0)", showlegend=False,
           font=dict(family=FONT, color="black"), autosize=False)
ann, shp = [], []
count = [0]
def axes(x0, x1, y0, y1, xr, yr, xo=None, yo=None):
    count[0] += 1
    s = "" if count[0]==1 else str(count[0])
    xd = dict(domain=[x0/W,x1/W], range=xr, anchor="y"+s, visible=False, showgrid=False, zeroline=False)
    yd = dict(domain=[1-y1/H,1-y0/H], range=yr, anchor="x"+s, visible=False, showgrid=False, zeroline=False)
    xd.update(xo or {}); yd.update(yo or {})
    lay["xaxis"+s] = xd; lay["yaxis"+s] = yd
    return "x"+s, "y"+s
def vis(size, lw=1.5, ticklen=5, **k):
    d = dict(visible=True, showline=True, linecolor="#222", linewidth=lw, ticks="outside", ticklen=ticklen, tickwidth=1, tickcolor="#222", tickfont=dict(size=size,color="black",family=FONT))
    d.update(k); return d
def T(x, y, s, size=17, anchor="center", bold=False, angle=0, xref="paper", yref="paper", color="black"):
    if xref == "paper":
        x, y = x/W, 1-y/H
    ann.append(dict(x=x, y=y, xref=xref, yref=yref, text=f"<b>{s}</b>" if bold else s, showarrow=False, xanchor=anchor, yanchor="middle", textangle=angle, align="center", font=dict(size=size,family=FONT,color=color)))
def closed(pts):
    return [p[0] for p in pts]+[pts[0][0]], [p[1] for p in pts]+[pts[0][1]]
def seg_xy(lines):
    xs, ys = [], []
    for l in lines:
        xs += [p[0] for p in l]+[None]; ys += [p[1] for p in l]+[None]
    return xs, ys
def poly(xa, ya, pts, c):
    x, y = closed(pts)
    fig.add_trace(go.Scatter(x=x, y=y, mode="lines", fill="toself", fillcolor=c, line=dict(color=c,width=1), xaxis=xa, yaxis=ya, hoverinfo="skip"))
def cloud(xa, ya, pts, c):
    # speckled fill: the cluster colour with small white pattern dots and a broken edge
    x, y = closed(pts)
    fig.add_trace(go.Scatter(x=x, y=y, mode="lines", fill="toself", fillcolor=c, line=dict(color=c,width=4,dash="1px,3px"),
        fillpattern=dict(shape=".", bgcolor=c, fgcolor="white", size=5, solidity=.14, fillmode="replace"), xaxis=xa, yaxis=ya, hoverinfo="skip"))
def dots(xa, ya, pts, c, size, cliponaxis=False):
    fig.add_trace(go.Scatter(x=[p[0] for p in pts], y=[p[1] for p in pts], mode="markers", marker=dict(color=c,size=size,line=dict(width=0)), xaxis=xa, yaxis=ya, cliponaxis=cliponaxis, hoverinfo="skip"))

# page axes in pixels, used for legends and leader lines
PX, PY = axes(0, W, 0, H, [0,W], [H,0])
for s, x, y, fs_ in [("A",31,27,38),("B",903,27,38),("C",33,711,42),("D",33,1427,42),("E",22,1877,42),("F",931,1590,42),("G",1400,1590,42),("H",989,2127,42)]:
    T(x, y, s, size=fs_)

# ---------- A ----------
xa, ya = axes(72.5, 716, 44, 612, [-43.6,44.8], [-46.7,42.5], vis(18,tickvals=[-40,-20,0,20,40]), vis(18,tickvals=[-40,-20,0,20,40]))
for k, pts in tsne_polys:
    cloud(xa, ya, pts, tsne_colors[k])
for g in epi_gaps:
    poly(xa, ya, g, "white")
dots(xa, ya, white_specks, "white", 4)
dots(xa, ya, [(3.5,-5),(2.5,-6.5)], tsne_colors["Ma"], 4)
for x, y, s in a_labels:
    T(x, y, s, size=14.5, xref=xa, yref=ya)
T(392, 656, "tSNE_1", size=22); T(16, 328, "tSNE_2", size=22, angle=-90)
fig.add_trace(go.Scatter(x=[752]*6, y=a_legend_y, mode="markers", marker=dict(color=a_legend_c,size=13), xaxis=PX, yaxis=PY, hoverinfo="skip"))
for s, y in zip(a_legend, a_legend_y):
    T(775, y, s, size=17, anchor="left")

# ---------- B ----------
xa, ya = axes(930, 1662, 80, 1355, [930,1662], [1355,80])
grids = [np.zeros((1275,w), dtype="float32") for _,w,_ in SEG]
index = [(k,i) for k,(_,_,n) in enumerate(SEG) for i in range(n)]
for y, m, row in bands:
    row = row.replace(" ","")[:25]
    for p, ch in enumerate(row):
        if ch == ".": continue
        k, i = index[p]
        per = SEG[k][1]/SEG[k][2]
        base = LEVEL[int(ch)]
        for r, line in enumerate(MOTIF[m]):
            # sparse rows vary between receptor blocks; rings repeat identically as in the reference
            line = line[::-1] if (i % 2 and m in "sw") else line
            for c, mch in enumerate(line):
                if mch == ".": continue
                rr, cc = y-80+r, int(i*per)+2+c
                if rr < 1275 and cc < SEG[k][1]-1:
                    v = base+(2.5 if mch=="O" else 0)
                    grids[k][rr,cc:cc+2] = np.maximum(grids[k][rr,cc:cc+2], v)
lay["coloraxis"] = dict(cmin=0, cmax=15, colorscale=heat_colorscale, colorbar=dict(x=1671/W, xanchor="left", xpad=0, ypad=0, y=1-80/H, yanchor="top", len=277/H, lenmode="fraction", thickness=17, outlinewidth=0, tickvals=[0,2,4,6,8,10,12,14], ticks="", tickfont=dict(size=17,family=FONT)))
for (x0,w,n), g in zip(SEG, grids):
    fig.add_trace(go.Heatmap(z=g, x0=x0+.5, dx=1, y0=80.5, dy=1, coloraxis="coloraxis", xaxis=xa, yaxis=ya, hoverinfo="skip"))
disc = [v for i,c in enumerate(cell_colors) for v in ([i/6,c],[(i+1)/6,c])]
xr, yr = axes(930, 1662, 33, 53, [930,1662], [0,1])
xl, yl = axes(930, 1662, 56, 74, [930,1662], [0,1])
for k, (x0,w,n) in enumerate(SEG):
    z = [receptor_pattern*n]
    fig.add_trace(go.Heatmap(z=z, x0=x0+w/(24*n), dx=w/(12*n), y=[.5], zmin=-.5, zmax=5.5, colorscale=disc, showscale=False, xaxis=xr, yaxis=yr, hoverinfo="skip"))
    fig.add_trace(go.Heatmap(z=[[k]], x=[x0,x0+w], y=[0,1], zmin=-.5, zmax=5.5, colorscale=disc, showscale=False, xaxis=xl, yaxis=yl, hoverinfo="skip"))
T(1295.5, 15, "Ligand\u2212Receptor interaction strength", size=22, bold=True)
T(1667, 44, "receptor.cell", size=17, anchor="left", bold=True)
T(1667, 66, "ligand.cell", size=17, anchor="left", bold=True)
T(1724, 88, "cell type", size=17, anchor="left", bold=True)
xk, yk = axes(1724, 1751, 100, 258, [0,1], [5.5,-.5], None, dict(visible=True, side="right", tickvals=list(range(6)), ticktext=cell_types, ticks="", showline=False, tickfont=dict(size=17,family=FONT)))
fig.add_trace(go.Heatmap(z=[[i] for i in range(6)], x=[.5], y=list(range(6)), zmin=-.5, zmax=5.5, colorscale=disc, showscale=False, xaxis=xk, yaxis=yk, hoverinfo="skip"))
# mean strip
xm, ym = axes(930, 1664, 1368, 1481, [122,1237], [0,.1], dict(visible=True, showline=True, mirror=True, linecolor="#333", linewidth=2, ticks="", showticklabels=False),
              vis(16, lw=2, mirror=True, linecolor="#333", tickvals=[0,.02,.04,.06,.08,.1], ticktext=["0","0.02","0.04","0.06","0.08","0.1"]))
fig.add_trace(go.Scatter(x=[122,1237,1237,122], y=[0,0,.1,.1], mode="lines", fill="toself", fillcolor="#1E90FF", line=dict(width=0), xaxis=xm, yaxis=ym, hoverinfo="skip"))
fig.add_trace(go.Scatter(x=[122,1237], y=[.0015,.0015], mode="lines", line=dict(color="#8FD0FF",width=1.5), xaxis=xm, yaxis=ym, hoverinfo="skip"))
fig.add_trace(go.Scatter(x=mean_x, y=mean_y, mode="lines", line=dict(color="#8B1A1A",width=1.3,dash="4px,3px"), xaxis=xm, yaxis=ym, hoverinfo="skip"))
fig.add_trace(go.Scatter(x=q75_x, y=q75_y, mode="lines", line=dict(color="black",width=1.3,dash="4px,3px"), xaxis=xm, yaxis=ym, hoverinfo="skip"))
T(871, 1423, "log(strength)", size=16, angle=-90)
for s, y in side_labels:
    T(1689, y, s, size=14.5, anchor="left")
    fig.add_trace(go.Scatter(x=[1664,1672,1680,1686], y=[1478,1480,y,y], mode="lines", line=dict(color="black",width=1), xaxis=PX, yaxis=PY, hoverinfo="skip"))

# ---------- C ----------
xc, yc = axes(0, 840, 660, 1380, [0,1560], [1560,0])
cx, cy = 780, 790
def curve(i, j, bend):
    x0,y0,x1,y1 = node_x[i],node_y[i],node_x[j],node_y[j]
    mx,my = (x0+x1)/2,(y0+y1)/2
    return f"M{x0},{y0} Q{mx+(cx-mx)*bend:.0f},{my+(cy-my)*bend:.0f} {x1},{y1}"
def tint(i, j):
    if i < 12 and j < 12: return "#A9CFD0"
    if i >= 12 and j >= 12: return "#EFF2B4"
    return "#CFE3B8"
n = len(node_x)
for i in range(n):
    for j in range(i+1,n):
        shp.append(dict(type="path", path=curve(i,j,.10), xref=xc, yref=yc, line=dict(color=tint(i,j),width=.7), opacity=.75, layer="below"))
    dx, dy = node_x[i]-cx, node_y[i]-cy
    L = (dx*dx+dy*dy)**.5
    ux, uy = dx/L, dy/L
    ax, ay = node_x[i]+ux*95-uy*55, node_y[i]+uy*95+ux*55
    bx, by = node_x[i]+ux*95+uy*55, node_y[i]+uy*95-ux*55
    shp.append(dict(type="path", path=f"M{node_x[i]},{node_y[i]} C{ax:.0f},{ay:.0f} {bx:.0f},{by:.0f} {node_x[i]},{node_y[i]}", xref=xc, yref=yc, line=dict(color=tint(i,i),width=.9), layer="below"))
for i, j, w in strong_edges:
    shp.append(dict(type="path", path=curve(i,j,.06), xref=xc, yref=yc, line=dict(color="#35308A" if w>3 else "#1B2F6B",width=w)))
for p in strong_loops:
    shp.append(dict(type="path", path=p, xref=xc, yref=yc, line=dict(color="#1B2F6B",width=1.3)))
for x, y, c in zip(node_x, node_y, node_col):
    shp.append(dict(type="rect", x0=x-46, x1=x+46, y0=y-33, y1=y+33, xref=xc, yref=yc, fillcolor=c, line=dict(width=0)))
fig.add_trace(go.Scatter(x=node_x, y=node_y, mode="markers", marker=dict(size=1,opacity=0), xaxis=xc, yaxis=yc, hoverinfo="skip"))
for s, x, y in zip(node_names, label_x, node_y):
    T(x, y, s, size=20.5, xref=xc, yref=yc)

# ---------- D ----------
xd, yd = axes(0, 760, 1400, 1840, [0,1560], [1320,0])
gx, gy = seg_xy(d_grid)
fig.add_trace(go.Scatter(x=gx, y=gy, mode="lines", line=dict(color="#E4E4E4",width=1), xaxis=xd, yaxis=yd, hoverinfo="skip"))
gx, gy = seg_xy(d_axes)
fig.add_trace(go.Scatter(x=gx, y=gy, mode="lines", line=dict(color="#555",width=1.3), xaxis=xd, yaxis=yd, hoverinfo="skip"))
poly(xd, yd, d_outline, "#DD66E6")
dots(xd, yd, d_blue, "#00A5FF", 12); dots(xd, yd, d_teal, "#00B5C8", 12); dots(xd, yd, d_green, "#00B050", 11)
dots(xd, yd, d_red, "#FF6070", 13); dots(xd, yd, d_gold, "#C08F0A", 14)
for x, y, s in d_text:
    T(x, y, s, size=17, xref=xd, yref=yd)
T(372, 488, "z", size=17, xref=xd, yref=yd, angle=-90)
fig.add_trace(go.Scatter(x=[590]*6, y=d_legend_y, mode="markers", marker=dict(color=d_legend_c,size=10), xaxis=PX, yaxis=PY, hoverinfo="skip"))
for s, y in zip(d_legend, d_legend_y):
    T(604, y, s, size=16.5, anchor="left")

# ---------- E ----------
tv = [-40,-20,0,20,40]; tt = ["-40","-20","0","20","40"]
for data, (x0,x1), title in zip([e1,e2,e3], e_boxes, e_titles):
    xe, ye = axes(x0, x1, 1903, 2097, [-40,40], [-40,40], vis(22,tickvals=tv,ticktext=tt,ticklen=3), vis(22,tickvals=tv,ticktext=tt,ticklen=3))
    for key, c in [("T","#DD66E6"),("B","#FF6070"),("E","#C08F0A"),("M","#00B5C8"),("S","#00A5FF"),("C","#00B050")]:
        dots(xe, ye, data[key], c, 9.5)
    poly(xe, ye, data["core"], "#00A5FF")
    dots(xe, ye, data["core_M"], "#00B5C8", 10)
    dots(xe, ye, data["core_E"], "#C08F0A", 9.5)
    T((x0+x1)/2, 1879, title, size=28, bold=True)
    T((x0+x1)/2, 2158, "x", size=22)
    T(x0-62, 2000, "y", size=22, angle=-90)
for (x0,x1,y0,y1), out, dts, layers in zip(r_boxes, [r1_out,r2_out,r3_out], [r1_dots,r2_dots,r3_dots], r_layers):
    xe, ye = axes(x0, x1, y0, y1, [-40,40], [-40,40], vis(26,tickvals=[-40,0,40],ticktext=["-40","0","40"],ticklen=3), vis(26,tickvals=tv,ticktext=tt,ticklen=3))
    poly(xe, ye, out, "#FF0000")
    dots(xe, ye, dts, "#FF0000", 12)
    for c, pts in layers:
        poly(xe, ye, pts, c)
    T((x0+x1)/2, 2396, "x", size=24)
    T(x0-75, (y0+y1)/2, "y", size=24, angle=-90)

# ---------- F ----------
f_xr = [-.243,5.252]; f_yr = [-.263,5.263]
BLUE = "#0A6CB5"
xt, yt = axes(1009, 1325, 1644, 1681, f_xr, [0,18000], None, vis(10,lw=.8,ticklen=3,linecolor="#bbb",tickvals=[0,7500,15000],ticktext=["0","7500","15000"]))
fig.add_trace(go.Bar(x=list(range(6)), y=f_top, width=.56, marker=dict(color=BLUE,line=dict(width=0)), xaxis=xt, yaxis=yt, hoverinfo="skip"))
xf, yf = axes(1009, 1325, 1685, 2000, f_xr, f_yr, vis(12.5,lw=1,linecolor="#bbb",tickcolor="#999",ticklen=3,tickvals=list(range(6)),ticktext=f_cols,tickangle=-35), vis(12.5,lw=1,linecolor="#bbb",tickcolor="#999",ticklen=3,tickvals=list(range(6)),ticktext=f_rows))
fx, fy, fs, fc = [], [], [], []
for r in range(6):
    for c in range(6):
        fx.append(c); fy.append(r); fs.append(f_size[r][c]); fc.append("#FF6170" if (r,c) in f_enriched else "#04A5FC")
fig.add_trace(go.Scatter(x=fx, y=fy, mode="markers", marker=dict(size=fs,color=fc,line=dict(width=0)), xaxis=xf, yaxis=yf, hoverinfo="skip"))
xs, ys = axes(1330, 1368, 1685, 2000, [0,18240], f_yr, vis(10,lw=1,linecolor="#bbb",tickcolor="#999",ticklen=3,tickvals=[0,15000],ticktext=["0","15000"]))
fig.add_trace(go.Bar(y=list(range(6)), x=f_side, width=.56, orientation="h", marker=dict(color=BLUE,line=dict(width=0)), xaxis=xs, yaxis=ys, hoverinfo="skip"))
T(1329, 1637, "type", size=11, anchor="left", bold=True)
T(1342, 1652, "enriched", size=11, anchor="left"); T(1342, 1666, "depleted", size=11, anchor="left")
fig.add_trace(go.Scatter(x=[1331,1331], y=[1652,1666], mode="markers", marker=dict(size=4,color=["#FF6170","#04A5FC"]), xaxis=PX, yaxis=PY, hoverinfo="skip"))

# ---------- G ----------
fig.add_trace(go.Pie(values=g_values, labels=g_labels, marker=dict(colors=g_colors,line=dict(width=0)), hole=.5, sort=False, direction="clockwise", rotation=-1, textinfo="none", hoverinfo="skip",
                     domain=dict(x=[1538/W,1748/W], y=[1-1938/H,1-1728/H])))
for r in (105, 52):
    shp.append(dict(type="circle", xref="paper", yref="paper", x0=(1643-r)/W, x1=(1643+r)/W, y0=1-(1833+r)/H, y1=1-(1833-r)/H, line=dict(color="#0A0AA5",width=2)))
lx, ly = seg_xy(g_leaders)
fig.add_trace(go.Scatter(x=lx, y=ly, mode="lines", line=dict(color="#0A0AB0",width=2.5), xaxis=PX, yaxis=PY, hoverinfo="skip"))
T(1639, 1661, "Cell away from ligand receptor interaction center", size=16.5, bold=True)
for s, x, y, a in g_text:
    T(x, y, s, size=17, anchor=a)
T(1644, 1999, "Total=1890", size=17, bold=True)

# ---------- H ----------
xh, yh = axes(1488, 1790.6, 2166, 2439, [-.32,6.82], [5.59,-.59],
              vis(13,lw=1.5,linecolor="#666",tickcolor="#666",ticklen=3,tickvals=[0,2,4,6]),
              vis(16,lw=1.5,linecolor="#666",tickcolor="#666",ticklen=3,tickvals=list(range(6)),ticktext=h_terms))
fig.add_trace(go.Bar(y=list(range(6)), x=h_values, width=.91, orientation="h", xaxis=xh, yaxis=yh, hoverinfo="skip",
    marker=dict(color=h_fold, cmin=6, cmax=32, colorscale=[[0,"#7F00E0"],[1,"#FF0000"]], line=dict(width=0),
                colorbar=dict(x=1782/W, xanchor="left", xpad=0, ypad=0, y=1-2259/H, yanchor="top", len=75/H, thickness=15, outlinewidth=0, tickvals=[10,15,20,25,30], ticks="", tickfont=dict(size=10,family=FONT)))))
T(1479, 2144, "Downregulated GO-BP items", size=15.5)
T(1673, 2468, "\u2212log10(P value)", size=15)
T(1782, 2248, "Fold Enrichment", size=12, anchor="left")

lay["annotations"] = ann
lay["shapes"] = shp
fig.update_layout(**lay)
fig.write_html("out.html", config={"displayModeBar": False}, post_script="document.body.style.margin='0px';")
